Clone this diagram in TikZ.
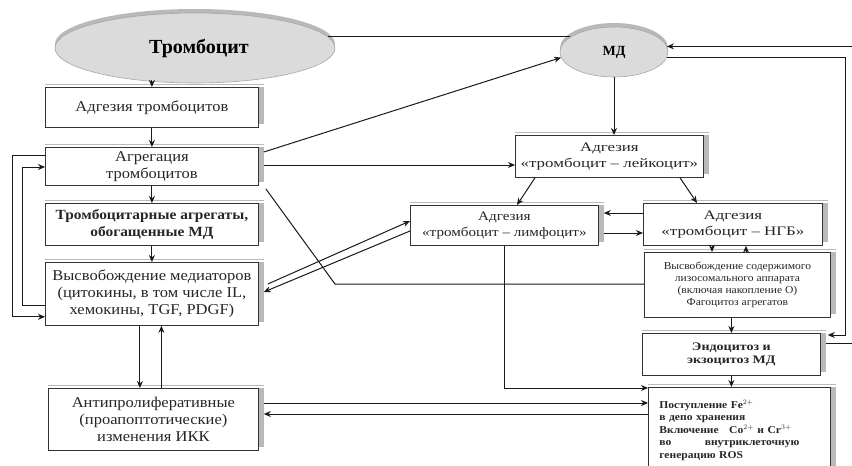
\documentclass[tikz,border=0pt]{standalone}
\usepackage{fontspec}
\setmainfont{Liberation Serif}
\newfontfamily\wideA[FakeStretch=1.10]{Liberation Serif}
\newfontfamily\wideB[FakeStretch=1.30]{Liberation Serif}
\newfontfamily\wideC[FakeStretch=1.16]{Liberation Serif}
\newfontfamily\wideD[FakeStretch=1.22]{Liberation Serif}
\usetikzlibrary{arrows.meta,shapes.geometric,calc}
\newcommand\shd[1]{%
  \fill[gray!55] (#1.north east) rectangle ([xshift=5pt,yshift=4pt]#1.south east);
  \draw[gray!55, line width=1.6pt] ([yshift=2.5pt]#1.north west) -- ([yshift=2.5pt,xshift=5pt]#1.north east);
}
\begin{document}
\begin{tikzpicture}[x=1pt,y=-1pt,
  box/.style={draw=black!80, line width=0.8pt, fill=white, anchor=north west, align=center,
    inner sep=1pt, font=\wideA\fontsize{15}{17}\selectfont, text=black!85},
  rbox/.style={box, font=\wideB\fontsize{13}{16}\selectfont},
  arr/.style={-{Stealth[length=7pt,width=6pt]}, line width=1pt, draw=black!90},
  ln/.style={line width=1pt, draw=black!90},
  oval/.style={ellipse, inner sep=0pt, fill=gray!28, draw=gray!70, line width=0.6pt}
]
\useasboundingbox (0,0) rectangle (852,466);

% ellipses
\fill[gray!55] (195,44) ellipse [x radius=140, y radius=35];
\node[oval, minimum width=280pt, minimum height=70pt, font=\bfseries\fontsize{20}{22}\selectfont] (T) at (195,48) {\hspace*{8pt}Тромбоцит};
\fill[gray!55] (614,48) ellipse [x radius=54, y radius=25];
\node[oval, minimum width=108pt, minimum height=50pt, font=\bfseries\fontsize{14}{16}\selectfont] (md) at (614,52) {МД};

% left column
\node[box, minimum width=213pt, minimum height=40pt] (a1) at (45,87) {Адгезия тромбоцитов};
\node[box, minimum width=213pt, minimum height=38pt] (a2) at (45,147) {Агрегация\\тромбоцитов};
\node[box, minimum width=213pt, minimum height=42pt, font=\wideA\bfseries\fontsize{14}{16.5}\selectfont] (a3) at (45,203) {Тромбоцитарные агрегаты,\\обогащенные МД};
\node[box, minimum width=213pt, minimum height=63pt] (a4) at (45,262) {Высвобождение медиаторов\\(цитокины, в том числе IL,\\хемокины, TGF, PDGF)};
\node[box, minimum width=210pt, minimum height=62pt] (a5) at (48,388) {Антипролиферативные\\(проапоптотические)\\изменения ИКК};

% right part
\node[rbox, minimum width=188pt, minimum height=42pt] (b1) at (515,135) {Адгезия\\«тромбоцит – лейкоцит»};
\node[rbox, minimum width=188pt, minimum height=40pt, font=\wideC\fontsize{13}{16}\selectfont] (b2) at (410,205) {Адгезия\\«тромбоцит – лимфоцит»};
\node[rbox, minimum width=179pt, minimum height=42pt] (b3) at (643,203) {Адгезия\\«тромбоцит – НГБ»};
\node[rbox, minimum width=186pt, minimum height=65pt, font=\wideA\fontsize{10.5}{12.3}\selectfont] (b4) at (644,252) {Высвобождение содержимого\\лизосомального аппарата\\(включая накопление О)\\Фагоцитоз агрегатов};
\node[rbox, minimum width=178pt, minimum height=42pt, font=\wideD\bfseries\fontsize{11.5}{13.5}\selectfont] (b5) at (642,333) {Эндоцитоз и\\экзоцитоз МД};
\node[rbox, minimum width=182pt, minimum height=85pt, align=left, text width=160pt, font=\wideA\bfseries\fontsize{10.5}{12.5}\selectfont] (b6) at (648,387) {Поступление Fe$^{2+}$\\в депо хранения\\Включение\ \ \ Co$^{2+}$ и Cr$^{3+}$\\\makebox[140pt][s]{во\hfill внутриклеточную}\\генерацию ROS};

\foreach \n in {a1,a2,a3,a4,a5,b1,b2,b3,b4,b5,b6} {\shd{\n}}

% coordinates
\coordinate (k1) at (335,284);
\coordinate (r1) at (845,200);
\coordinate (r2) at (880,200);

% left column arrows
\draw[arr] ([yshift=7pt]a1.north) -- (a1.north);
\draw[arr] (a1.south) -- (a2.north);
\draw[arr] (a2.south) -- (a3.north);
\draw[arr] (a3.south) -- (a4.north);
\draw[arr] ([xshift=-12pt]a4.south) -- ([xshift=-12pt]a4.south |- a5.north);
\draw[arr] ([xshift=9.5pt]a4.south |- a5.north) -- ([xshift=9.5pt]a4.south);
\draw[arr] ([yshift=-8pt]a2.north west) -- ++(-33,0) |- ([yshift=9pt]a4.south west);
\draw[arr] ([yshift=20pt]a4.south west) -- ++(-23,0) |- ([yshift=-20pt]a2.north west);

% to MD
\draw[ln] (md.161) -- (md.161 -| T.5);
\draw[arr] ([xshift=5pt,yshift=-5pt]a2.north east) -- (md.186);
\draw[arr] ([xshift=5pt,yshift=-18pt]a2.north east) -- ([yshift=-18pt]a2.north east -| b1.west);
\draw[arr] (md.south) -- (md.south |- b1.north);
\draw[arr] ([xshift=20pt]b1.south west) -- ([xshift=107pt]b2.north west);
\draw[arr] ([xshift=165pt]b1.south west) -- ([xshift=54pt]b3.north west);
\draw[arr] ([yshift=-10pt]b3.north west) -- ([yshift=-10pt,xshift=5pt]b3.north west -| b2.east);
\draw[arr] ([yshift=-30pt,xshift=5pt]b3.north west -| b2.east) -- ([yshift=-30pt]b3.north west);
\draw[arr] ([xshift=9pt,yshift=-22pt]a4.north east) -- ([yshift=-16pt]b2.north west);
\draw[arr] ([yshift=-26pt]b2.north west) -- ([xshift=5pt,yshift=-30pt]a4.north east);
\draw[ln] ([xshift=7pt,yshift=-3pt]a2.south east) -- (k1) -- (k1 -| b4.west);
\draw[arr] (b2.south) |- ([yshift=-1pt]b6.north west);
\draw[arr] ([xshift=5pt,yshift=-15pt]a5.north east) -- ([yshift=-15pt]a5.north east -| b6.west);
\draw[arr] ([yshift=-26pt]a5.north east -| b6.west) -- ([xshift=5pt,yshift=-26pt]a5.north east);
\draw[arr] ([xshift=69pt]b3.south west) -- ([xshift=68pt]b4.north west);
\draw[arr] ([xshift=102pt]b4.north west) -- ([xshift=103pt]b3.south west);
\draw[arr] (b4.south -| b5.north) -- (b5.north);
\draw[arr] (b5.south) -- (b5.south |- b6.north);
\draw[arr] (md.-6) -- (md.-6 -| r1) |- ([xshift=7pt,yshift=-2pt]b5.north east);
\draw[arr] ([xshift=5pt,yshift=-10pt]b5.north east) -| (r2) |- (md.6);
\end{tikzpicture}
\end{document}
